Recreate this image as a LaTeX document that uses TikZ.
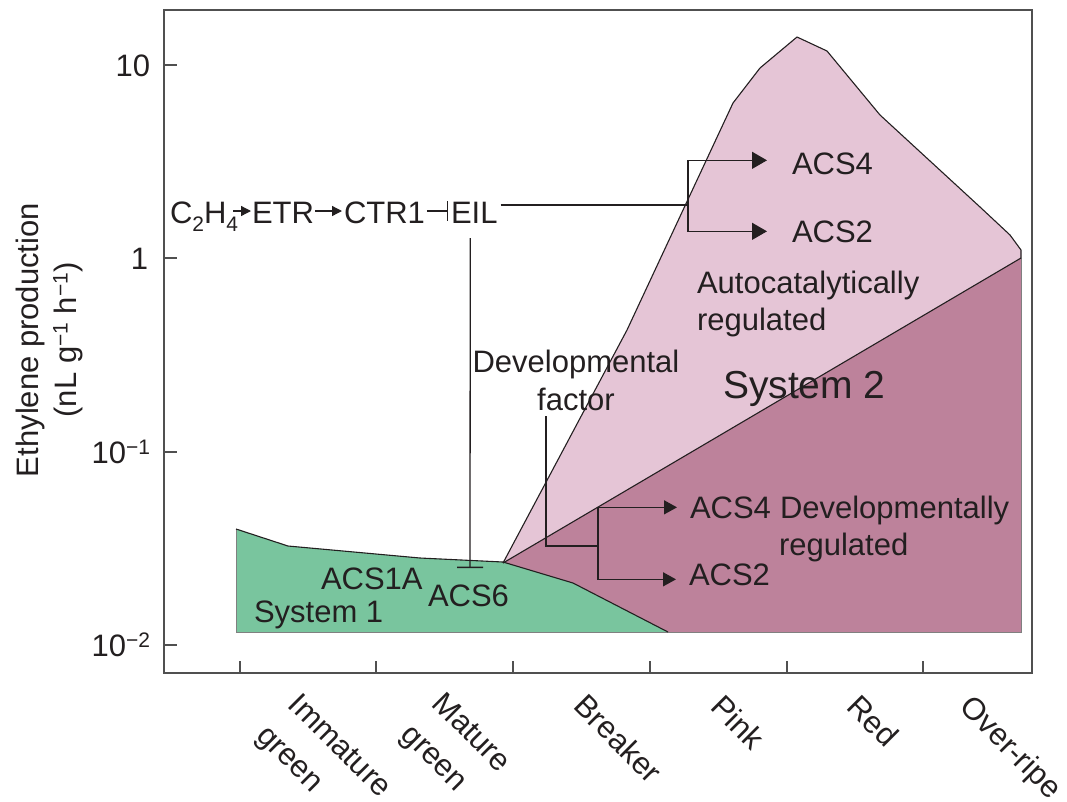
\documentclass[tikz,border=0pt]{standalone}
\usepackage{fontspec}
\setmainfont{Liberation Sans}
\usetikzlibrary{arrows.meta}
\definecolor{sysone}{RGB}{121,197,158}
\definecolor{autopink}{RGB}{229,197,214}
\definecolor{devmauve}{RGB}{189,130,155}
\definecolor{ink}{RGB}{35,31,32}
\definecolor{axisgray}{RGB}{80,80,80}
\newcommand\mysub[1]{\raisebox{-8pt}{\fontsize{21}{21}\selectfont #1}}
\newcommand\mysup[1]{\raisebox{9pt}{\fontsize{21}{21}\selectfont #1}}
\begin{document}
\begin{tikzpicture}[x=1pt,y=-1pt,
  txt/.style={inner sep=0pt, outer sep=0pt, text=ink, font=\fontsize{31}{37}\selectfont},
  bigtxt/.style={txt, font=\fontsize{39}{44}\selectfont},
  xlab/.style={txt, font=\fontsize{31}{44}\selectfont, rotate=-45, anchor=north west, align=left},
  conn/.style={draw=ink, line width=1.3pt},
  bigarr/.style={conn, -{Triangle[length=15pt,width=17pt]}},
  midarr/.style={conn, -{Triangle[length=13pt,width=14pt]}},
  smallarr/.style={conn, -{Triangle[length=10pt,width=10pt]}},
  inhib/.style={conn, -{Bar[width=#1]}},
  border/.style={draw=ink, line width=1.1pt, line join=round},
  frameline/.style={draw=axisgray, line width=1.6pt}]
\useasboundingbox (0,0) rectangle (1067,801);

% regions
\fill[autopink] (503,563) -- (627,330) -- (733,103) -- (760,68) -- (797,37) -- (827,51) -- (880,115) -- (980,207) -- (1010,235) -- (1021,250) -- (1021,258) -- cycle;
\fill[devmauve] (503,563) -- (1021,258) -- (1021,632) -- (668,632) -- (573,583) -- cycle;
\fill[sysone] (236,529) -- (288,546) -- (420,558) -- (503,562) -- (573,583) -- (668,632) -- (236,632) -- cycle;
\draw[draw=gray, line width=0.8pt] (236,529) -- (236,632) -- (1021,632) -- (1021,258);
\draw[border] (503,563) -- (627,330) -- (733,103) -- (760,68) -- (797,37) -- (827,51) -- (880,115) -- (980,207) -- (1010,235) -- (1021,250) -- (1021,258);
\draw[border] (503,563) -- (1021,258);
\draw[border] (236,529) -- (288,546) -- (420,558) -- (503,562) -- (573,583) -- (668,632);

% frame and ticks
\draw[frameline] (164,10) rectangle (1032,673);
\foreach \y in {65,258,452,645} \draw[frameline] (164,\y) -- (177,\y);
\foreach \x in {240,376,513,650,787,923} \draw[frameline] (\x,673) -- (\x,661);

% y tick labels
\node[txt, anchor=base east] (t10) at (150,76) {10};
\node[txt, anchor=base east] (t1) at (148,269) {1};
\node[txt, anchor=base east] (tm1) at (150,463) {10\mysup{−1}};
\node[txt, anchor=base east] (tm2) at (150,656) {10\mysup{−2}};

% y title
\node[txt, rotate=90] (ytitleA) at (30,340) {Ethylene production};
\node[txt, rotate=90] (ytitleB) at (68,340) {(nL g\mysup{−1} h\mysup{−1})};

% x labels
\node[xlab] (xlA) at (302,691) {Immature\\green};
\node[xlab] (xlB) at (446,690) {Mature\\green};
\node[xlab] (xlC) at (588,692) {Breaker};
\node[xlab] (xlD) at (725,693) {Pink};
\node[xlab] (xlE) at (861,693) {Red};
\node[xlab] (xlF) at (974,693) {Over-ripe};

% signalling chain
\node[txt, anchor=base west] (c2h4) at (170,223) {C\mysub{2}H\mysub{4}};
\node[txt, anchor=base west] (etr) at (252,223) {ETR};
\node[txt, anchor=base west] (ctr) at (344,223) {CTR1};
\node[txt, anchor=base west] (eil) at (451,223) {EIL};
\draw[smallarr] ([xshift=-5pt,yshift=12pt]c2h4.base east) -- ([xshift=-1pt,yshift=12pt]etr.base west);
\draw[smallarr] ([xshift=1pt,yshift=12pt]etr.base east) -- ([xshift=-2pt,yshift=12pt]ctr.base west);
\draw[inhib=20pt] ([xshift=2pt,yshift=12pt]ctr.base east) -- ([xshift=-3pt,yshift=12pt]eil.base west);

% autocatalytic branch
\node[txt, anchor=base west] (acsFourA) at (792,174) {ACS4};
\node[txt, anchor=base west] (acsTwoA) at (792,242) {ACS2};
\coordinate (jtop) at (688,205);
\draw[conn] ([xshift=3pt,yshift=18pt]eil.base east) -- (jtop);
\draw[bigarr] (jtop) |- ([xshift=-25pt,yshift=3pt]acsFourA.west);
\draw[bigarr] (jtop) |- ([xshift=-25pt]acsTwoA.west);

% EIL inhibition of system 1
\coordinate (eilbar) at (470,568);
\draw[inhib=26pt] ([xshift=-4pt,yshift=-15pt]eil.base) -- (eilbar);

% developmental factor
\node[txt, anchor=base] (devA) at (576,372) {Developmental};
\node[txt, anchor=base] (devB) at (576,410) {factor};
\node[txt, anchor=base west] (acsFourB) at (690,518) {ACS4};
\node[txt, anchor=base west] (acsTwoB) at (689,585) {ACS2};
\coordinate (jdev) at (598,546);
\draw[conn] ([xshift=-30pt,yshift=-6pt]devB.base) |- (jdev);
\draw[midarr] (jdev) |- ([xshift=-13pt]acsFourB.west);
\draw[midarr] (jdev) |- ([xshift=-13pt,yshift=-5pt]acsTwoB.west);

% region labels
\node[txt, anchor=base west] (autoA) at (697,293) {Autocatalytically};
\node[txt, anchor=base west] (autoB) at (697,330) {regulated};
\node[bigtxt, anchor=base west] (sysTwo) at (723,398) {System 2};
\node[txt, anchor=base west] (devregA) at (780,518) {Developmentally};
\node[txt, anchor=base west] (devregB) at (779,555) {regulated};
\node[txt, anchor=base west] (sysOne) at (254,622) {System 1};
\node[txt, anchor=base west] (acsOneA) at (321,589) {ACS1A};
\node[txt, anchor=base west] (acsSix) at (428,606) {ACS6};
\end{tikzpicture}
\end{document}
